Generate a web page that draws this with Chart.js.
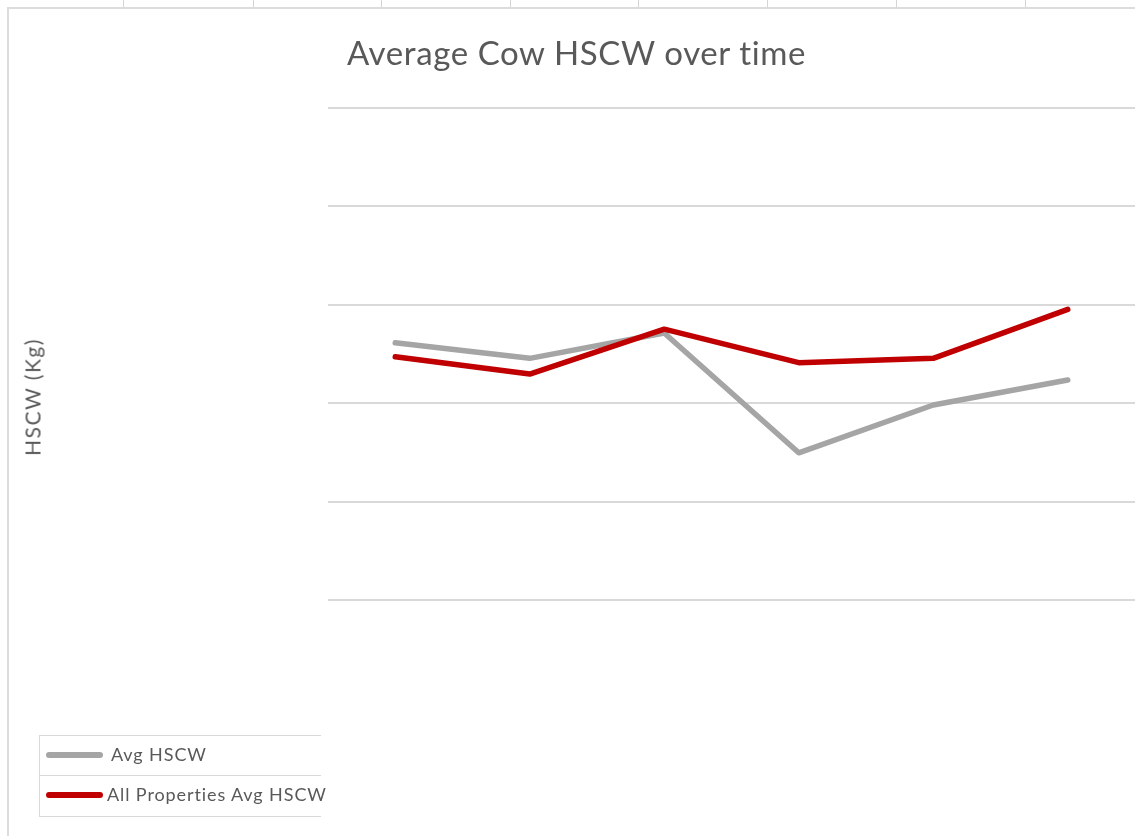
<!DOCTYPE html>
<html>
<head>
<meta charset="utf-8">
<script src="https://cdn.jsdelivr.net/npm/chart.js@4.4.1/dist/chart.umd.min.js"></script>
<style>
  body { margin: 0; background: #fff; font-family: 'Lato', 'Open Sans', sans-serif; }
  #wrap { position: relative; width: 1135px; height: 836px; overflow: hidden; }
  #chartBox { position: absolute; left: 0; top: 0; width: 1135px; height: 836px; }
  .frameTop { position: absolute; left: 8px; top: 7px; width: 1127px; height: 2px; background: #dcdcdc; }
  .frameLeft { position: absolute; left: 7px; top: 7px; width: 2px; height: 829px; background: #dcdcdc; }
  .colTick { position: absolute; top: 0; width: 1px; height: 7px; background: #d4d4d4; }
  #title { position: absolute; left: 347px; top: 32px; font-size: 33px; font-weight: 400; letter-spacing: 0.6px; color: #595959; white-space: nowrap; }
  #yTitle { position: absolute; left: 32px; top: 397px; transform: translate(-50%, -50%) rotate(-90deg); font-size: 21px; letter-spacing: 1.5px; color: #595959; white-space: nowrap; }
  #legend { position: absolute; left: 39px; top: 735px; width: 281px; height: 80px; border: 1px solid #d9d9d9; border-right: none; }
  .legRow { position: relative; height: 39px; }
  .legRow + .legRow { border-top: 1px solid #d9d9d9; }
  .swatch { position: absolute; left: 6px; top: 16px; width: 57px; height: 6px; border-radius: 3px; }
  .legText { position: absolute; top: 7px; font-size: 18px; letter-spacing: 0.9px; color: #595959; white-space: nowrap; }
</style>
</head>
<body>
<div id="wrap">
  <div class="frameTop"></div>
  <div class="frameLeft"></div>
  <div id="ticks"></div>
  <div id="chartBox"><canvas id="chart"></canvas></div>
  <div id="title">Average Cow HSCW over time</div>
  <div id="yTitle">HSCW (Kg)</div>
  <div id="legend"></div>
</div>
<script>
// periods along the x axis (labels are not shown in the chart)
const periods = ['P1', 'P2', 'P3', 'P4', 'P5', 'P6'];
const avgHscw = [330.7, 322.8, 335.7, 274.8, 299.1, 311.8];
const allPropsAvgHscw = [323.6, 314.8, 337.6, 320.6, 322.8, 347.7];
const yMin = 200;
const yMax = 450;
const yStep = 50;

const seriesNames = ['Avg HSCW', 'All Properties Avg HSCW'];
const seriesColors = ['#a5a5a5', '#c00000'];

// spreadsheet column marks along the top edge
const tickXs = [123, 253, 381, 510, 638, 767, 896, 1025];
const ticksEl = document.getElementById('ticks');
tickXs.forEach(x => {
  const d = document.createElement('div');
  d.className = 'colTick';
  d.style.left = x + 'px';
  ticksEl.appendChild(d);
});

// legend rows
const legendEl = document.getElementById('legend');
seriesNames.forEach((name, i) => {
  const row = document.createElement('div');
  row.className = 'legRow';
  const sw = document.createElement('div');
  sw.className = 'swatch';
  sw.style.background = seriesColors[i];
  const tx = document.createElement('div');
  tx.className = 'legText';
  tx.style.left = (i === 0 ? 71 : 67) + 'px';
  tx.textContent = name;
  row.appendChild(sw);
  row.appendChild(tx);
  legendEl.appendChild(row);
});

new Chart(document.getElementById('chart'), {
  type: 'line',
  data: {
    labels: periods,
    datasets: [
      {
        label: seriesNames[0],
        data: avgHscw,
        borderColor: seriesColors[0],
        borderWidth: 5.5,
        order: 1
      },
      {
        label: seriesNames[1],
        data: allPropsAvgHscw,
        borderColor: seriesColors[1],
        borderWidth: 5.5,
        order: 0
      }
    ]
  },
  options: {
    responsive: true,
    maintainAspectRatio: false,
    animation: false,
    layout: { padding: { left: 328, top: 108, right: 0, bottom: 236 } },
    elements: {
      point: { radius: 0, hoverRadius: 0 },
      line: { tension: 0, borderCapStyle: 'round', borderJoinStyle: 'round' }
    },
    plugins: {
      legend: { display: false },
      tooltip: { enabled: false },
      title: { display: false }
    },
    scales: {
      x: {
        display: false,
        offset: true
      },
      y: {
        min: yMin,
        max: yMax,
        ticks: { display: false, stepSize: yStep },
        grid: { color: '#d9d9d9', lineWidth: 2, drawTicks: false },
        border: { display: false },
        afterFit: s => { s.width = 0; }
      }
    }
  }
});
</script>
</body>
</html>
